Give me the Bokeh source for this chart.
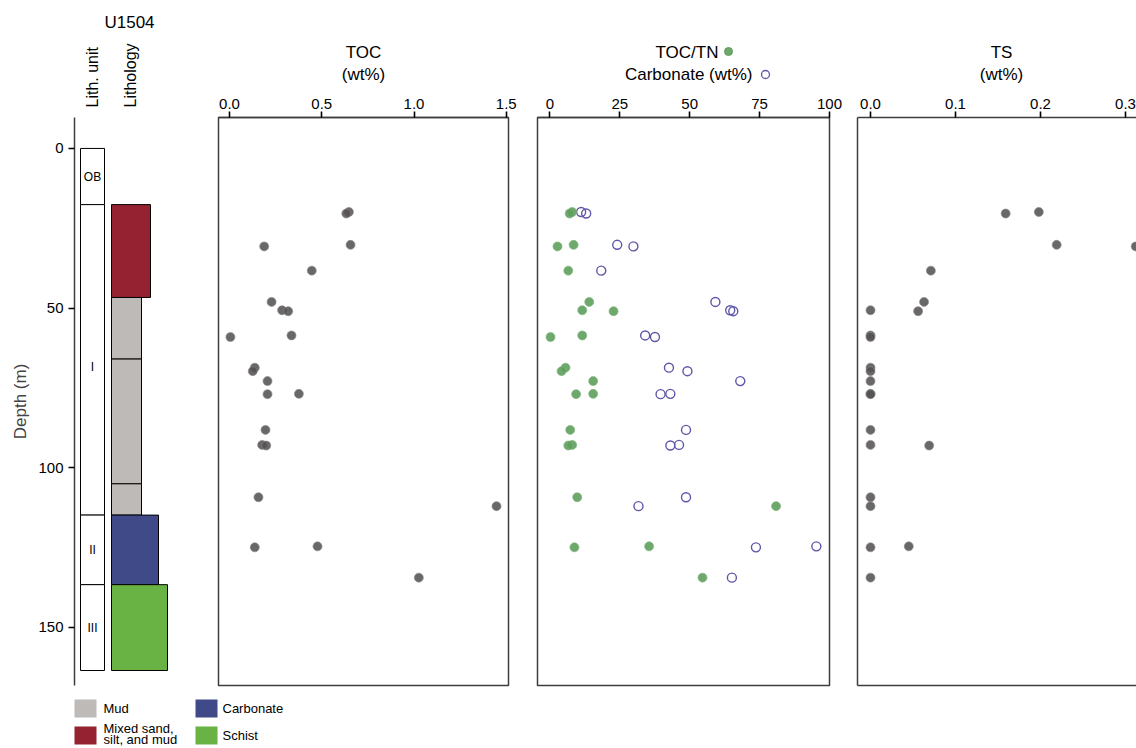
import numpy as np
from bokeh.plotting import figure
from bokeh.layouts import row, column
from bokeh.models import Range1d, LinearAxis, FixedTicker, NumeralTickFormatter
from bokeh.embed import file_html
from bokeh.resources import INLINE
from bokeh.core.properties import value

FONT = "Liberation Sans"

# ---------------- data ----------------
depth = [19.9, 20.4, 30.2, 30.7, 38.3, 48.1, 50.7, 51.0, 58.6, 59.1, 68.7, 69.8,
         72.9, 76.9, 77.0, 88.2, 92.9, 93.1, 109.3, 112.1, 124.7, 125.0, 134.5]
toc = [0.647, 0.633, 0.656, 0.188, 0.446, 0.228, 0.285, 0.318, 0.336, 0.005, 0.137, 0.126,
       0.206, 0.376, 0.206, 0.195, 0.177, 0.199, 0.157, 1.447, 0.477, 0.137, 1.026]
toc_tn = [8.0, 7.1, 8.5, 2.75, 6.6, 14.1, 11.6, 22.8, 11.6, 0.25, 5.6, 4.2,
          15.5, 15.5, 9.4, 7.3, 8.0, 6.6, 9.8, 80.9, 35.5, 8.8, 54.6]
carbonate = [11.2, 13.0, 24.1, 29.9, 18.4, 59.2, 64.5, 65.6, 34.1, 37.6, 42.6, 49.2,
             68.1, 43.1, 39.6, 48.7, 46.2, 43.1, 48.7, 31.7, 95.3, 73.7, 65.1]
ts = [0.198, 0.159, 0.219, 0.312, 0.071, 0.063, 0.0, 0.056, 0.0, 0.0, 0.0, 0.0,
      0.0, 0.0, 0.0, 0.0, 0.0, 0.069, 0.0, 0.0, 0.045, 0.0, 0.0]

unit_names = ["OB", "I", "II", "III"]
unit_top = [0.0, 17.6, 114.9, 136.7]
unit_bottom = [17.6, 114.9, 136.7, 163.6]
unit_label_depth = [8.8, 68.5, 125.8, 150.2]

lith_top = [17.6, 46.7, 66.0, 105.1, 114.9, 136.7]
lith_bottom = [46.7, 66.0, 105.1, 114.9, 136.7, 163.6]
lith_type = ["Mixed", "Mud", "Mud", "Mud", "Carbonate", "Schist"]

depth_ticks = [0, 50, 100, 150]
toc_ticks = [0, 0.5, 1.0, 1.5]
tn_ticks = [0, 25, 50, 75, 100]
ts_ticks = [0, 0.1, 0.2, 0.3]

site_name = "U1504"
column_titles = ["Lith. unit", "Lithology"]
panel_titles = [["TOC", "(wt%)"], ["TOC/TN", "Carbonate (wt%)"], ["TS", "(wt%)"]]

legend_keys = ["Mud", "Mixed", "Carbonate", "Schist"]
legend_text = [["Mud"], ["Mixed sand,", "silt, and mud"], ["Carbonate"], ["Schist"]]

# ---------------- styles ----------------
lith_color = {"Mud": "#bebab7", "Mixed": "#952231", "Carbonate": "#404a89", "Schist": "#69b244"}
lith_width = {"Mud": 30, "Mixed": 39, "Carbonate": 47, "Schist": 56}

AX = "#3d3d3d"
GREEN = "#5e9e5c"
PURPLE = "#5e57a8"
FRAME_H = 568
yr = Range1d(168.3, -9.7)

TXT = dict(text_font=value(FONT), text_color="black", text_baseline="middle")


def style_axis(ax, ticks):
    ax.ticker = FixedTicker(ticks=ticks)
    ax.minor_tick_line_color = None
    ax.major_tick_in = 0
    ax.major_tick_out = 6
    ax.major_tick_line_color = "black"
    ax.major_tick_line_width = 1.6
    ax.axis_line_color = AX
    ax.axis_line_width = 1.5
    ax.major_label_text_font = FONT
    ax.major_label_text_font_size = "15px"
    ax.major_label_text_color = "black"
    ax.major_label_standoff = 3


def blank(width, height, x0, x1, y0, y1, left=0):
    p = figure(output_backend="svg", toolbar_location=None, width=width, height=height,
               min_border=0, min_border_left=left, x_range=Range1d(x0, x1),
               y_range=Range1d(y1, y0), x_axis_type=None, y_axis_type=None,
               outline_line_color=None)
    p.grid.visible = False
    return p


# ---------------- left header (page px coords, frame 74..213) ----------------
hl = blank(213, 117, 74, 213, 0, 117, left=74)
hl.text(x=[129], y=[22], text=[site_name], text_font_size="17px", text_align="center", **TXT)
hl.text(x=[92, 130], y=[107, 107], text=column_titles, angle=np.pi / 2,
        text_font_size="16px", text_align="left", **TXT)

# ---------------- lithology column ----------------
fl = figure(output_backend="svg", toolbar_location=None, frame_width=139, frame_height=FRAME_H,
            min_border_left=74, min_border_right=0, min_border_top=0, min_border_bottom=5,
            x_range=Range1d(0, 139), y_range=yr, x_axis_type=None, outline_line_color=None)
fl.grid.visible = False
yax = fl.yaxis[0]
style_axis(yax, depth_ticks)
yax.major_label_standoff = 5
yax.axis_label = "Depth (m)"
yax.axis_label_text_font = FONT
yax.axis_label_text_font_size = "17px"
yax.axis_label_text_font_style = "normal"
yax.axis_label_standoff = 5

fl.quad(left=6, right=30, top=unit_top, bottom=unit_bottom, fill_color="white",
        line_color="black", line_width=1)
fl.text(x=18, y=unit_label_depth, text=unit_names, text_font_size="12px",
        text_align="center", **TXT)
fl.quad(left=37, right=[37 + lith_width[t] for t in lith_type], top=lith_top, bottom=lith_bottom,
        fill_color=[lith_color[t] for t in lith_type], line_color="black", line_width=1)

# ---------------- right header (page px coords) ----------------
hr = blank(923, 88, 213, 1136, 0, 88)
hr.text(x=[363, 363, 1001, 1001], y=[52, 74, 52, 74],
        text=[panel_titles[0][0], panel_titles[0][1], panel_titles[2][0], panel_titles[2][1]],
        text_font_size="17px", text_align="center", **TXT)
hr.text(x=[718, 752], y=[52, 74], text=panel_titles[1], text_font_size="17px",
        text_align="right", **TXT)
hr.scatter(x=[728], y=[51], size=8, fill_color=GREEN, fill_alpha=0.9, line_color=GREEN)
hr.scatter(x=[765], y=[74], size=8, fill_color=None, line_color=PURPLE, line_width=1.3)


# ---------------- data panels ----------------
def panel(xr, ticks, frame_width, mb_left, mb_right, outline=True):
    p = figure(output_backend="svg", toolbar_location=None, frame_width=frame_width,
               frame_height=FRAME_H, min_border_left=mb_left, min_border_right=mb_right,
               min_border_top=29, min_border_bottom=5, x_range=xr, y_range=yr,
               x_axis_location="above", y_axis_type=None,
               outline_line_color=AX if outline else None, outline_line_width=1.5)
    p.grid.visible = False
    style_axis(p.xaxis[0], ticks)
    return p


GRAY = dict(size=9, fill_color="#555253", fill_alpha=0.88, line_color="#8a8888",
            line_alpha=0.8, line_width=0.8)

ftoc = panel(Range1d(-0.0596, 1.512), toc_ticks, 290, 5, 20)
ftoc.xaxis[0].formatter = NumeralTickFormatter(format="0.0")
ftoc.scatter(x=toc, y=depth, **GRAY)

ftn = panel(Range1d(-4.4, 100.0), tn_ticks, 292, 9, 19)
ftn.scatter(x=carbonate, y=depth, size=9, fill_color=None, line_color=PURPLE, line_width=1.4)
ftn.scatter(x=toc_tn, y=depth, size=9, fill_color=GREEN, fill_alpha=0.9,
            line_color="#7db57b", line_alpha=0.8, line_width=0.8)

fts = panel(Range1d(-0.0153, 0.3129), ts_ticks, 279, 9, 0, outline=False)
fts.xaxis[0].formatter = NumeralTickFormatter(format="0.0")
for side in ("left", "below"):
    ax = LinearAxis(ticker=FixedTicker(ticks=[]), axis_line_color=AX, axis_line_width=1.5,
                    major_tick_line_color=None, minor_tick_line_color=None,
                    major_tick_out=0, major_label_standoff=0, major_label_text_font_size="0px")
    fts.add_layout(ax, side)
fts.scatter(x=ts, y=depth, **GRAY)

# ---------------- legend (page px coords) ----------------
fb = blank(1136, 58, 0, 1136, 690, 748)
sw_left = [74, 74, 195, 195]
sw_top = [699, 726, 699, 726]
fb.quad(left=sw_left, right=[l + 22 for l in sw_left], top=sw_top,
        bottom=[t + 18 for t in sw_top],
        fill_color=[lith_color[k] for k in legend_keys], line_color=None)
tx, ty, tt = [], [], []
for l, t, lines in zip(sw_left, sw_top, legend_text):
    n = len(lines)
    for i, s in enumerate(lines):
        tx.append(l + 29 if l < 100 else l + 27)
        ty.append(t + 9 + (i - (n - 1) / 2) * 11 - (2 if n > 1 else 0))
        tt.append(s)
fb.text(x=tx, y=ty, text=tt, text_font_size="13px", text_align="left", **TXT)

layout = column(
    row(column(hl, fl), column(hr, row(ftoc, ftn, fts))),
    fb,
)
open("out.html", "w").write(file_html(layout, INLINE))
